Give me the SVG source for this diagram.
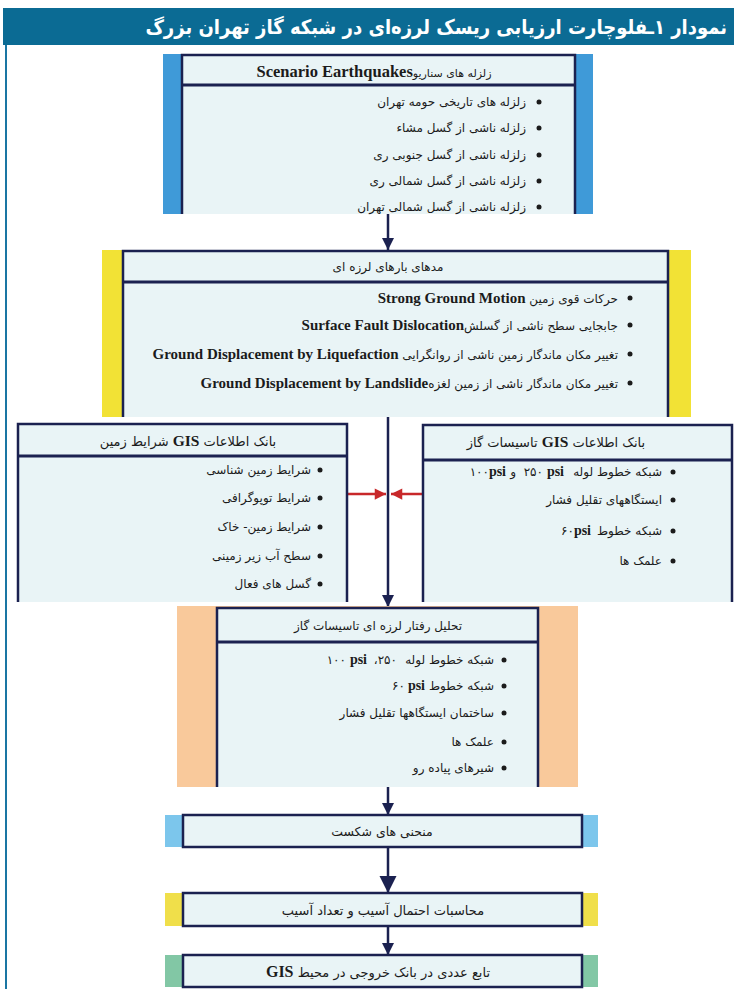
<svg xmlns="http://www.w3.org/2000/svg" width="734" height="989" viewBox="0 0 734 989">
<defs>
<style>
.fa{font-family:"DejaVu Sans",sans-serif;font-size:12px;fill:#1b1b1b;direction:rtl;unicode-bidi:embed}
.fl{font-family:"DejaVu Sans",sans-serif;font-size:12px;fill:#1b1b1b}
.en{font-family:"Liberation Serif",serif;font-weight:bold;font-size:14px}
.ps{font-family:"Liberation Serif",serif;font-weight:bold;font-size:14px;fill:#1b1b1b}
.box{fill:#e9f4f6}
.bd{fill:none;stroke:#1b2150;stroke-width:2.5}
.sep{stroke:#1b2150;stroke-width:3}
.dot{fill:#1b1b1b}
.conn{stroke:#1b2150;stroke-width:2.5;fill:none}
.red{stroke:#c8282a;stroke-width:2.5;fill:none}
</style>
<marker id="ah" viewBox="0 0 10 10" refX="10" refY="5" markerWidth="5" markerHeight="5" orient="auto" markerUnits="strokeWidth">
<path d="M0,0 L10,5 L0,10 z" fill="#1b2150"/>
</marker>
<marker id="ahL" viewBox="0 0 10 10" refX="10" refY="5" markerWidth="7" markerHeight="7" orient="auto" markerUnits="strokeWidth">
<path d="M0,0 L10,5 L0,10 z" fill="#1b2150"/>
</marker>
<marker id="ar" viewBox="0 0 10 10" refX="10" refY="5" markerWidth="5" markerHeight="4.5" orient="auto" markerUnits="strokeWidth">
<path d="M0,0 L10,5 L0,10 z" fill="#c8282a"/>
</marker>
</defs>
<rect x="0" y="0" width="734" height="989" fill="#ffffff"/>
<g id="frame">
<rect x="3" y="8" width="731" height="37" fill="#0b6b94"/>
<line x1="6" y1="45" x2="6" y2="989" stroke="#1a76a3" stroke-width="2"/>
<text x="727" y="34" style="font-family:'DejaVu Sans Condensed','DejaVu Sans',sans-serif;font-size:20px;font-weight:bold;fill:#ffffff;direction:rtl;unicode-bidi:embed" text-anchor="start">نمودار ۱ـفلوچارت ارزیابی ریسک لرزه‌ای در شبکه گاز تهران بزرگ</text>
</g>
<g id="connectors">
<line class="conn" x1="388" y1="214" x2="388" y2="250" marker-end="url(#ah)"/>
<line class="conn" x1="388" y1="417" x2="388" y2="607" marker-end="url(#ah)"/>
<line class="conn" x1="388" y1="787" x2="388" y2="815" marker-end="url(#ah)"/>
<line class="conn" x1="388" y1="847" x2="388" y2="893" marker-end="url(#ahL)"/>
<line class="conn" x1="388" y1="926" x2="388" y2="955" marker-end="url(#ah)"/>
<line class="red" x1="340" y1="494" x2="386" y2="494" marker-end="url(#ar)"/>
<line class="red" x1="427" y1="494" x2="391" y2="494" marker-end="url(#ar)"/>
</g>
<g id="scenario">
<rect x="163" y="54" width="430" height="160" fill="#3f9ad8"/>
<rect class="box" x="182" y="55" width="393" height="159"/>
<path class="bd" d="M182,214 V55 H575 V214"/>
<line class="sep" x1="182" y1="85" x2="575" y2="85"/>
<text class="fa" style="font-size:11px" x="374" y="77" text-anchor="middle">زلزله های سناریو<tspan class="en" style="font-size:16.5px">Scenario Earthquakes</tspan></text>
<circle class="dot" cx="539" cy="102" r="2.5"/>
<circle class="dot" cx="539" cy="128" r="2.5"/>
<circle class="dot" cx="539" cy="155" r="2.5"/>
<circle class="dot" cx="539" cy="181" r="2.5"/>
<circle class="dot" cx="539" cy="207" r="2.5"/>
<text class="fa" x="526" y="106" text-anchor="start">زلزله های تاریخی حومه تهران</text>
<text class="fa" x="526" y="132" text-anchor="start">زلزله ناشی از گسل مشاء</text>
<text class="fa" x="526" y="159" text-anchor="start">زلزله ناشی از گسل جنوبی ری</text>
<text class="fa" x="526" y="185" text-anchor="start">زلزله ناشی از گسل شمالی ری</text>
<text class="fa" x="526" y="211" text-anchor="start">زلزله ناشی از گسل شمالی تهران</text>
</g>
<g id="loads">
<rect x="102" y="250" width="589" height="167" fill="#f2e235"/>
<rect class="box" x="123" y="251" width="545" height="166"/>
<path class="bd" d="M123,417 V251 H668 V417"/>
<line class="sep" x1="123" y1="282" x2="668" y2="282"/>
<text class="fa" x="388" y="271" text-anchor="middle">مدهای بارهای لرزه ای</text>
<circle class="dot" cx="630" cy="298" r="2.5"/>
<circle class="dot" cx="630" cy="325" r="2.5"/>
<circle class="dot" cx="630" cy="354" r="2.5"/>
<circle class="dot" cx="630" cy="383" r="2.5"/>
<text class="fa" x="618" y="303" text-anchor="start">حرکات قوی زمین <tspan class="en" style="font-size:15px">Strong Ground Motion</tspan></text>
<text class="fa" x="618" y="330" text-anchor="start">جابجایی سطح ناشی از گسلش<tspan class="en" style="font-size:15px">Surface Fault Dislocation</tspan></text>
<text class="fa" x="618" y="359" text-anchor="start">تغییر مکان ماندگار زمین ناشی از روانگرایی <tspan class="en" style="font-size:15px">Ground Displacement by Liquefaction</tspan></text>
<text class="fa" x="618" y="388" text-anchor="start">تغییر مکان ماندگار ناشی از زمین لغزه<tspan class="en" style="font-size:15px">Ground Displacement by Landslide</tspan></text>
</g>
<g id="gis-soil">
<rect class="box" x="18" y="424" width="329" height="178"/>
<path class="bd" d="M18,602 V424 H347 V602"/>
<line class="sep" x1="18" y1="456" x2="347" y2="456"/>
<text class="fa" style="font-size:13px" x="188" y="446" text-anchor="middle">بانک اطلاعات <tspan class="en" style="font-size:15.5px">GIS</tspan> شرایط زمین</text>
<circle class="dot" cx="320" cy="470" r="2.5"/>
<circle class="dot" cx="320" cy="498" r="2.5"/>
<circle class="dot" cx="320" cy="527" r="2.5"/>
<circle class="dot" cx="320" cy="556" r="2.5"/>
<circle class="dot" cx="320" cy="584" r="2.5"/>
<text class="fa" x="311" y="474" text-anchor="start">شرایط زمین شناسی</text>
<text class="fa" x="311" y="502" text-anchor="start">شرایط توپوگرافی</text>
<text class="fa" x="311" y="531" text-anchor="start">شرایط زمین- خاک</text>
<text class="fa" x="311" y="560" text-anchor="start">سطح آب زیر زمینی</text>
<text class="fa" x="311" y="588" text-anchor="start">گسل های فعال</text>
</g>
<g id="gis-gas">
<rect class="box" x="423" y="425" width="309" height="177"/>
<path class="bd" d="M423,602 V425 H732 V602"/>
<line class="sep" x1="423" y1="460" x2="732" y2="460"/>
<text class="fa" style="font-size:13px" x="556" y="447" text-anchor="middle">بانک اطلاعات <tspan class="en" style="font-size:15.5px">GIS</tspan> تاسیسات گاز</text>
<circle class="dot" cx="673" cy="472" r="2.5"/>
<circle class="dot" cx="673" cy="500" r="2.5"/>
<circle class="dot" cx="673" cy="531" r="2.5"/>
<circle class="dot" cx="673" cy="561" r="2.5"/>
<text class="fl" x="662" y="476" text-anchor="end">شبکه خطوط لوله</text>
<text class="ps" x="564" y="476" text-anchor="end">psi</text>
<text class="fl" x="543" y="476" text-anchor="end">۲۵۰</text>
<text class="fl" x="516" y="476" text-anchor="end">و</text>
<text class="ps" x="506" y="476" text-anchor="end">psi</text>
<text class="fl" x="489" y="476" text-anchor="end">۱۰۰</text>
<text class="fa" x="662" y="504" text-anchor="start">ایستگاههای تقلیل فشار</text>
<text class="fl" x="662" y="535" text-anchor="end">شبکه خطوط</text>
<text class="ps" x="591" y="535" text-anchor="end">psi</text>
<text class="fl" x="574" y="535" text-anchor="end">۶۰</text>
<text class="fa" x="662" y="565" text-anchor="start">علمک ها</text>
</g>
<g id="analysis">
<rect x="177" y="606" width="401" height="181" fill="#f9c99b"/>
<rect class="box" x="217" y="608" width="321" height="179"/>
<path class="bd" d="M217,787 V608 H538 V787"/>
<line class="sep" x1="217" y1="642" x2="538" y2="642"/>
<text class="fa" x="378" y="630" text-anchor="middle">تحلیل رفتار لرزه ای تاسیسات گاز</text>
<circle class="dot" cx="504" cy="660" r="2.5"/>
<circle class="dot" cx="504" cy="686" r="2.5"/>
<circle class="dot" cx="504" cy="713" r="2.5"/>
<circle class="dot" cx="504" cy="742" r="2.5"/>
<circle class="dot" cx="504" cy="768" r="2.5"/>
<text class="fl" x="494" y="664" text-anchor="end">شبکه خطوط لوله</text>
<text class="fa" x="397" y="664" text-anchor="start">۲۵۰،</text>
<text class="ps" x="367" y="664" text-anchor="end">psi</text>
<text class="fl" x="346" y="664" text-anchor="end">۱۰۰</text>
<text class="fl" x="494" y="690" text-anchor="end">شبکه خطوط</text>
<text class="ps" x="425" y="690" text-anchor="end">psi</text>
<text class="fl" x="405" y="690" text-anchor="end">۶۰</text>
<text class="fa" x="494" y="717" text-anchor="start">ساختمان ایستگاهها تقلیل فشار</text>
<text class="fa" x="494" y="746" text-anchor="start">علمک ها</text>
<text class="fa" x="494" y="772" text-anchor="start">شیرهای پیاده رو</text>
</g>
<g id="fragility">
<rect x="165" y="815" width="433" height="32" fill="#7cc6ec"/>
<rect class="box" x="183" y="815" width="399" height="32"/>
<rect class="bd" x="183" y="815" width="399" height="32"/>
<text class="fa" style="font-size:12.5px" x="382" y="836" text-anchor="middle">منحنی های شکست</text>
</g>
<g id="damage">
<rect x="165" y="893" width="433" height="33" fill="#f0df4a"/>
<rect class="box" x="183" y="893" width="399" height="33"/>
<rect class="bd" x="183" y="893" width="399" height="33"/>
<text class="fa" style="font-size:13px" x="383" y="915" text-anchor="middle">محاسبات احتمال آسیب و تعداد آسیب</text>
</g>
<g id="output">
<rect x="165" y="955" width="433" height="32" fill="#82c7a5"/>
<rect class="box" x="183" y="955" width="399" height="32"/>
<rect class="bd" x="183" y="955" width="399" height="32"/>
<text class="fa" style="font-size:13px" x="378" y="977" text-anchor="middle">تابع عددی در بانک خروجی در محیط <tspan class="en" style="font-size:16px">GIS</tspan></text>
</g>
</svg>
